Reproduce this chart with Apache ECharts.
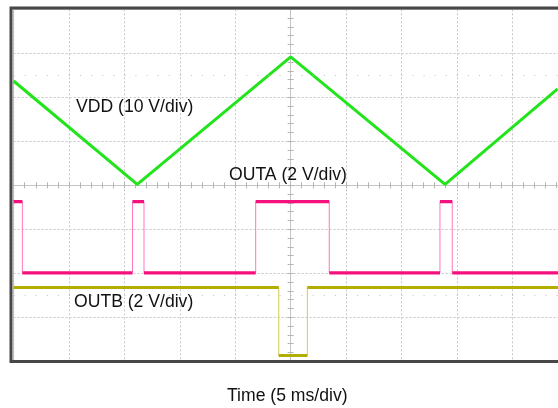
<!DOCTYPE html>
<html>
<head>
<meta charset="utf-8">
<script src="https://cdn.jsdelivr.net/npm/echarts@6/dist/echarts.min.js"></script>
<style>
html,body{margin:0;padding:0;background:#fff;}
#c{width:558px;height:408px;}
</style>
</head>
<body>
<div id="c"></div>
<script>
// Time in ms (5 ms/div, 10 div), vertical in divisions (8 div)
const timeMin = 0, timeMax = 50, timeStep = 5;
const divMin = 0, divMax = 8, divStep = 1;

// VDD triangle vertices (time ms, div)
const vddTime = [0, 11.16, 25.01, 38.94, 49.1];
const vddDiv  = [6.37, 4.02, 6.92, 4.02, 6.19];

// OUTA: starting level high, toggles at each edge time
const outaEdges = [0.79, 10.73, 11.77, 21.85, 28.49, 38.48, 39.59];
const outaHigh = 3.63, outaLow = 2.01, outaStartHigh = true;

// OUTB
const outbEdges = [23.93, 26.51];
const outbHigh = 1.68, outbLow = 0.13, outbStartHigh = true;

// reference dotted rows (div)
const refRows = [6.5, 1.5];

const labels = {
  vdd: 'VDD (10 V/div)',
  outa: 'OUTA (2 V/div)',
  outb: 'OUTB (2 V/div)',
  time: 'Time (5 ms/div)'
};

function stepData(edges, hi, lo, startHigh) {
  const pts = [];
  let high = startHigh;
  pts.push([timeMin, high ? hi : lo]);
  edges.forEach(t => {
    pts.push([t, high ? hi : lo]);
    high = !high;
    pts.push([t, high ? hi : lo]);
  });
  pts.push([timeMax, high ? hi : lo]);
  return pts;
}
function plateauData(edges, hi, lo, startHigh) {
  const pts = [];
  let high = startHigh;
  let t0 = timeMin;
  edges.concat([timeMax]).forEach(t => {
    const v = high ? hi : lo;
    pts.push([t0, v]); pts.push([t, v]); pts.push([t, '-']);
    high = !high; t0 = t;
  });
  return pts;
}

const G = {left: 13.6, top: 9.3, width: 554, height: 352, outerBoundsMode: 'none', containLabel: false};
const fontFam = '"Liberation Sans", Arial, sans-serif';
const fontSpec = '17.6px ' + fontFam;

const chart = echarts.init(document.getElementById('c'), null, {renderer: 'canvas'});

function crossAxes(gi, inside) {
  return {
    x: {
      type: 'value', gridIndex: gi, min: -25, max: 25, interval: 5,
      axisLine: {show: true, onZero: true, lineStyle: {color: '#c4c4c4', width: 1}},
      axisTick: {show: true, inside: inside, length: 3, lineStyle: {color: '#b4b4b4'}},
      minorTick: {show: true, splitNumber: 5, length: 3, lineStyle: {color: '#b4b4b4'}},
      axisLabel: {show: false}, splitLine: {show: false}
    },
    y: {
      type: 'value', gridIndex: gi, min: -4, max: 4, interval: 1,
      axisLine: {show: true, onZero: true, lineStyle: {color: '#c4c4c4', width: 1}},
      axisTick: {show: true, inside: inside, length: 3, lineStyle: {color: '#b4b4b4'}},
      minorTick: {show: true, splitNumber: 5, length: 3, lineStyle: {color: '#b4b4b4'}},
      axisLabel: {show: false}, splitLine: {show: false}
    }
  };
}
const c1 = crossAxes(1, true), c2 = crossAxes(2, false);

const option = {
  animation: false,
  backgroundColor: '#fff',
  grid: [
    Object.assign({show: true, borderColor: '#b0b0b0', borderWidth: 1, backgroundColor: '#fff'}, G),
    Object.assign({}, G),
    Object.assign({}, G)
  ],
  xAxis: [
    {
      type: 'value', gridIndex: 0, min: timeMin, max: timeMax, interval: timeStep,
      axisLine: {show: false}, axisTick: {show: false}, axisLabel: {show: false},
      splitLine: {show: true, lineStyle: {color: '#c6c6c6', type: [2, 2], width: 1}}
    },
    c1.x, c2.x
  ],
  yAxis: [
    {
      type: 'value', gridIndex: 0, min: divMin, max: divMax, interval: divStep,
      axisLine: {show: false}, axisTick: {show: false}, axisLabel: {show: false},
      splitLine: {show: true, lineStyle: {color: '#c6c6c6', type: [2, 2], width: 1}}
    },
    c1.y, c2.y
  ],
  series: [
    {
      type: 'line', xAxisIndex: 0, yAxisIndex: 0, showSymbol: false, silent: true,
      data: [],
      lineStyle: {width: 0},
      markLine: {
        silent: true, symbol: 'none', label: {show: false},
        lineStyle: {color: '#c0c0c0', type: [1, 10.08], width: 1},
        data: refRows.map(v => ({yAxis: v}))
      }
    },
    {
      name: 'OUTB edges', type: 'line', showSymbol: false, silent: true,
      data: stepData(outbEdges, outbHigh, outbLow, outbStartHigh),
      lineStyle: {color: '#cfcb55', width: 1}
    },
    {
      name: 'OUTB', type: 'line', showSymbol: false, silent: true, connectNulls: false,
      data: plateauData(outbEdges, outbHigh, outbLow, outbStartHigh),
      lineStyle: {color: '#b3ad00', width: 3}
    },
    {
      name: 'OUTA edges', type: 'line', showSymbol: false, silent: true,
      data: stepData(outaEdges, outaHigh, outaLow, outaStartHigh),
      lineStyle: {color: '#ff77bb', width: 1}
    },
    {
      name: 'OUTA', type: 'line', showSymbol: false, silent: true, connectNulls: false,
      data: plateauData(outaEdges, outaHigh, outaLow, outaStartHigh),
      lineStyle: {color: '#f5117d', width: 3.2}
    },
    {
      name: 'VDD', type: 'line', showSymbol: false, silent: true,
      data: vddTime.map((t, i) => [t, vddDiv[i]]),
      lineStyle: {color: '#22e41a', width: 3}
    }
  ],
  graphic: [
    {type: 'rect', z: 100, silent: true,
     shape: {x: 11, y: 8, width: 570, height: 353.5},
     style: {fill: 'none', stroke: '#474747', lineWidth: 3}},
    {type: 'text', z: 50, left: 76, top: 98,
     style: {text: labels.vdd, font: fontSpec, fill: '#111'}},
    {type: 'text', z: 50, left: 229, top: 166,
     style: {text: labels.outa, font: fontSpec, fill: '#111'}},
    {type: 'text', z: 50, left: 74, top: 293,
     style: {text: labels.outb, font: fontSpec, fill: '#111'}},
    {type: 'text', z: 50, left: 227, top: 387,
     style: {text: labels.time, font: fontSpec, fill: '#111'}}
  ]
};
chart.setOption(option);
</script>
</body>
</html>
